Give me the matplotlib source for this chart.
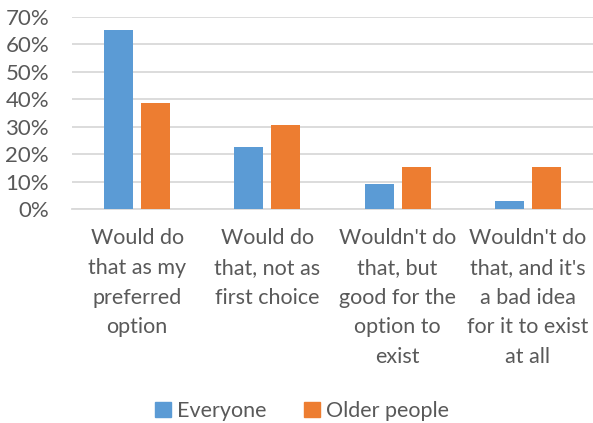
import matplotlib
matplotlib.use("Agg")
import matplotlib.pyplot as plt
from matplotlib.patches import Patch
import numpy as np

categories = ["Would do\nthat as my\npreferred\noption",
              "Would do\nthat, not as\nfirst choice",
              "Wouldn't do\nthat, but\ngood for the\noption to\nexist",
              "Wouldn't do\nthat, and it's\na bad idea\nfor it to exist\nat all"]
everyone = [0.654, 0.225, 0.09, 0.03]
older = [0.385, 0.308, 0.154, 0.154]
yticks = [0, 0.1, 0.2, 0.3, 0.4, 0.5, 0.6, 0.7]
series_names = ["Everyone", "Older people"]

plt.rcParams['font.family'] = ['Lato', 'DejaVu Sans']
txt = "#595959"
blue = "#5B9BD5"
orange = "#ED7D31"

W, H = 593, 423
fig = plt.figure(figsize=(W/100, H/100), dpi=100)
ax = fig.add_axes([72/W, (H-209)/H, (593-72)/W, 192/H])

x = np.arange(len(categories))
bw = 0.223
off = 0.142
ax.bar(x - off, everyone, bw, color=blue, zorder=3)
ax.bar(x + off, older, bw, color=orange, zorder=3)

ax.set_xlim(-0.5, 3.5)
ax.set_ylim(0, 0.7)
ax.set_yticks(yticks)
ax.set_yticklabels([f"{int(round(v*100))}%" for v in yticks], color=txt, fontsize=16)
ax.yaxis.grid(True, color="#D9D9D9", linewidth=1.3, zorder=0)
ax.tick_params(axis='y', length=0, pad=16.5)
ax.set_xticks(x)
ax.set_xticklabels(categories, color=txt, fontsize=15.5, linespacing=1.6)
ax.tick_params(axis='x', length=0, pad=14)
for s in ["top", "right", "left"]:
    ax.spines[s].set_visible(False)
ax.spines["bottom"].set_color("#D9D9D9")
ax.spines["bottom"].set_linewidth(1.3)

handles = [Patch(color=blue), Patch(color=orange)]
fig.legend(handles, series_names, loc="center", bbox_to_anchor=(302/W, 1-411/H),
           ncol=2, frameon=False, fontsize=15.5, labelcolor=txt,
           handlelength=0.75, handleheight=0.75, handletextpad=0.3, columnspacing=1.7)

fig.savefig("out.png", dpi=100)
